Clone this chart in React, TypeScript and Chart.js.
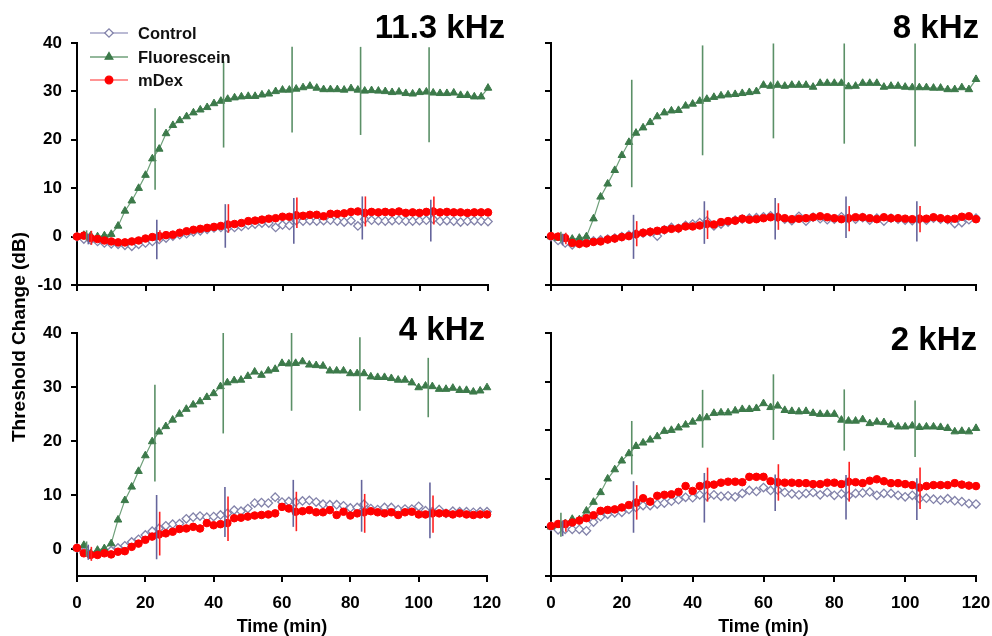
import React, { useEffect, useRef } from 'react';
import { Chart, registerables } from 'chart.js';

Chart.register(...registerables);

const FONT = '"Liberation Sans", Arial, Helvetica, sans-serif';

// ---------- data ----------
const time = [
  0, 2, 4, 6, 8, 10, 12, 14, 16, 18, 20, 22, 24, 26, 28, 30, 32, 34, 36, 38,
  40, 42, 44, 46, 48, 50, 52, 54, 56, 58, 60, 62, 64, 66, 68, 70, 72, 74, 76, 78,
  80, 82, 84, 86, 88, 90, 92, 94, 96, 98, 100, 102, 104, 106, 108, 110, 112, 114, 116, 118, 120,
];
const xTicks = [0, 20, 40, 60, 80, 100, 120];
const yTicksFull = [-10, 0, 10, 20, 30, 40];
const yTicksShort = [0, 10, 20, 30, 40];
const seriesNames = ['Control', 'Fluorescein', 'mDex'];
const panelTitles = ['11.3 kHz', '8 kHz', '4 kHz', '2 kHz'];
const xTitle = 'Time (min)';
const yTitle = 'Threshold Change (dB)';

// 11.3 kHz
const khz11Control = [0, -0.5, -0.7, -1.0, -1.3, -1.5, -1.6, -1.8, -2.0, -1.6, -1.3, -1.0, -0.6, -0.3, 0.1, 0.4, 0.6, 1.0, 1.2, 1.5, 1.8, 1.9, 1.8, 1.9, 2.1, 2.4, 2.6, 2.8, 2.8, 1.9, 2.4, 2.3, 3.3, 3.2, 3.3, 3.2, 3.3, 3.4, 3.2, 3.0, 3.3, 2.2, 3.6, 3.4, 3.3, 3.2, 3.3, 3.4, 3.2, 3.2, 3.3, 3.4, 3.6, 3.2, 3.3, 3.2, 3.0, 3.2, 3.3, 3.2, 3.1];
const khz11Fluor = [0, 0.3, 0.2, 0, 0.2, 0.5, 2.2, 5.3, 7.4, 10, 12.7, 16.1, 18.1, 21.3, 23, 24, 24.8, 25.6, 26.2, 26.7, 27.5, 28, 28.4, 28.7, 28.9, 29, 29, 29.3, 29.5, 30, 30.3, 30.3, 30.5, 30.8, 31.1, 30.7, 30.4, 30.4, 30.4, 30.3, 30.6, 30.3, 30.1, 30.2, 30.1, 30, 29.8, 29.9, 29.6, 29.5, 29.8, 29.9, 29.7, 29.6, 29.6, 29.7, 29.2, 29.2, 28.9, 28.9, 30.7];
const khz11Mdex = [0, 0.2, -0.3, -0.5, -0.8, -1.0, -1.2, -1.2, -1.0, -0.8, -0.4, -0.1, 0.1, 0.3, 0.4, 0.8, 1.1, 1.4, 1.6, 1.8, 2.0, 2.2, 2.5, 2.6, 2.8, 3.2, 3.3, 3.5, 3.7, 3.8, 4.1, 4.1, 4.4, 4.3, 4.5, 4.5, 4.2, 4.7, 4.7, 4.8, 5.1, 5.2, 4.9, 5.1, 5.0, 5.1, 5.0, 5.2, 4.9, 5.0, 4.9, 5.1, 5.2, 5.0, 5.1, 5.0, 5.0, 4.9, 5.0, 5.0, 5.0];

// 8 kHz
const khz8Control = [0, -0.8, -1.3, -1.7, -1.4, -1.1, -0.9, -0.7, -0.5, -0.3, 0, 0.3, 0.5, 0.7, 0.9, 0.1, 1.4, 1.9, 1.7, 2.3, 2.6, 2.9, 3.2, 2.2, 2.6, 3.0, 3.4, 3.6, 3.8, 3.9, 4.1, 4.3, 4.0, 3.6, 3.3, 4.2, 3.2, 4.0, 3.7, 3.5, 3.6, 4.1, 3.7, 3.6, 3.9, 3.4, 3.8, 3.2, 3.8, 3.6, 3.4, 3.3, 3.6, 3.4, 3.8, 3.6, 3.5, 2.7, 2.9, 3.5, 3.8];
const khz8Fluor = [0, -0.3, -0.3, -0.5, -0.3, 0, 3.7, 8.2, 10.9, 13.7, 16.8, 19.5, 21.4, 22.5, 23.6, 24.8, 25.6, 26, 26.1, 27, 27.4, 28, 28.4, 28.8, 29.1, 29.3, 29.4, 29.6, 29.8, 30, 31.3, 31.1, 31.3, 31.1, 31.3, 31.3, 31.3, 30.9, 31.7, 31.7, 31.7, 31.7, 31, 31.1, 31.7, 31.7, 31.7, 30.9, 31.1, 31.1, 30.9, 30.8, 30.8, 30.8, 30.7, 30.7, 30.4, 30.4, 30.8, 30.4, 32.5];
const khz8Mdex = [0.1, 0, -0.3, -1.3, -1.5, -1.4, -1.1, -1, -0.6, -0.4, -0.1, 0.1, 0.5, 0.8, 1.0, 1.2, 1.4, 1.6, 1.7, 2.1, 2.1, 2.3, 2.6, 2.5, 3.0, 3.2, 3.3, 3.7, 3.5, 3.6, 3.8, 4, 4, 3.8, 3.6, 3.7, 3.8, 4, 4.2, 4, 3.8, 3.6, 3.8, 4, 4, 3.8, 3.6, 4, 3.8, 3.8, 3.7, 3.6, 3.7, 3.7, 4, 3.8, 3.6, 3.7, 4.1, 4.2, 3.6];

// 4 kHz
const khz4Control = [0.2, -0.5, -0.9, -0.8, -0.5, -0.3, 0.2, 0.6, 1.3, 1.8, 2.6, 3.3, 3.8, 4.3, 4.6, 4.7, 5.6, 5.9, 6.1, 5.9, 6.0, 6.3, 6.6, 7.2, 7.0, 7.5, 8.5, 8.6, 8.5, 9.6, 8.7, 8.8, 8.7, 8.9, 9.0, 8.7, 8.3, 8.2, 8.2, 8.0, 7.6, 7.7, 8.3, 7.5, 7.3, 7.7, 7.7, 7.3, 7.4, 7.4, 7.9, 7.1, 6.9, 7.3, 6.6, 7.0, 6.9, 6.9, 6.8, 6.9, 6.9];
const khz4Fluor = [0.1, 0.7, -0.8, -0.2, 0.1, 1.0, 5.4, 9.0, 11.5, 14.4, 17.3, 19.9, 21.7, 22.7, 23.9, 25, 25.9, 26.7, 27.3, 28.1, 28.8, 30.1, 30.8, 31.2, 31.3, 32, 32.8, 32.2, 33, 33.3, 34.4, 34.3, 34.4, 34.7, 34.1, 34, 33.9, 33, 33, 33, 32.5, 32.5, 32.5, 31.9, 31.8, 31.8, 31.6, 31.3, 31.3, 30.8, 29.9, 30.2, 30.1, 29.6, 29.6, 29.8, 29.4, 29.4, 29.1, 29.3, 29.9];
const khz4Mdex = [0.2, -0.8, -1.1, -1.1, -0.8, -1.0, -0.5, -0.4, 0.4, 1.0, 1.7, 2.3, 2.7, 2.9, 3.2, 3.7, 3.8, 4.1, 3.8, 4.8, 4.4, 4.6, 4.8, 5.7, 5.8, 6.0, 6.2, 6.3, 6.4, 6.6, 7.8, 7.5, 6.9, 7.0, 7.2, 6.8, 6.8, 7.2, 6.3, 6.9, 6.2, 6.6, 6.8, 7.0, 6.8, 6.6, 6.8, 6.3, 6.8, 6.9, 6.4, 6.4, 6.6, 6.6, 6.6, 6.4, 6.6, 6.4, 6.3, 6.4, 6.4];

// 2 kHz
const khz2Control = [0.2, -0.5, -0.4, -0.4, -0.4, -0.7, 1.1, 2.2, 2.7, 3.0, 3.1, 3.7, 4.1, 4.5, 4.5, 4.8, 5.0, 5.4, 5.7, 6.2, 6.1, 6.7, 6.4, 6.7, 6.4, 6.5, 6.3, 7.0, 7.6, 7.4, 8.2, 7.6, 7.7, 7.2, 6.9, 6.7, 7.0, 7.2, 6.7, 7.2, 6.6, 6.9, 6.5, 7.0, 7.1, 7.3, 6.6, 7.0, 7.0, 6.6, 6.3, 6.6, 5.9, 6.0, 5.8, 5.6, 5.9, 5.5, 5.3, 4.9, 4.8];
const khz2Fluor = [0.1, 0.5, 0.8, 1.7, 1.6, 3.4, 5.2, 7.2, 10.0, 11.9, 13.7, 15.2, 16.7, 17.4, 18.0, 18.7, 19.8, 20.0, 20.5, 21.1, 21.7, 22.4, 22.6, 23.5, 23.6, 23.6, 24.0, 24.3, 24.3, 24.5, 25.5, 24.7, 25.0, 24.1, 23.9, 23.8, 23.9, 23.5, 23.3, 23.3, 23.3, 22.1, 21.9, 21.9, 22.2, 21.4, 21.7, 21.6, 21.1, 20.7, 20.7, 20.9, 20.6, 20.7, 20.7, 20.6, 20.4, 19.7, 19.8, 19.7, 20.4];
const khz2Mdex = [0.3, 0.7, 0.7, 1.0, 1.4, 1.9, 2.5, 3.4, 3.6, 3.7, 4.1, 4.6, 5.1, 6.0, 5.3, 6.5, 6.7, 6.8, 7.3, 8.5, 7.5, 8.5, 8.8, 8.8, 9.2, 9.4, 9.4, 9.3, 10.4, 10.4, 10.4, 9.5, 9.3, 9.2, 9.2, 9.1, 9.1, 8.9, 8.9, 9.2, 9.2, 8.9, 9.4, 9.3, 9.1, 9.6, 9.9, 9.5, 9.1, 9.1, 8.9, 8.7, 8.2, 8.5, 8.7, 8.7, 8.7, 9.1, 8.8, 8.6, 8.5];

// error bars (x positions and lower / upper ends)
const errXControl = [3.3, 23.3, 43.3, 63.3, 83.3, 103.3];
const errXFluor = [2.8, 22.8, 42.8, 62.8, 82.8, 102.8];
const errXMdex = [4.2, 24.2, 44.2, 64.2, 84.2, 104.2];

const khz11ControlLo = [-1.6, -4.7, -2.3, -1.5, -0.6, -1.0];
const khz11ControlHi = [0.6, 3.5, 6.7, 8.0, 8.3, 7.6];
const khz11FluorLo = [-0.8, 9.7, 18.4, 21.5, 21.0, 19.5];
const khz11FluorHi = [1.3, 26.5, 36.2, 39.2, 39.2, 39.1];
const khz11MdexLo = [-1.7, -1.0, 0.8, 1.8, 2.1, 2.5];
const khz11MdexHi = [1.2, 1.3, 6.7, 8.1, 8.3, 8.3];

const khz8ControlLo = [-1.8, -4.6, -1.5, -0.6, -0.3, -1.0];
const khz8ControlHi = [0.6, 4.5, 7.3, 8.0, 8.3, 7.3];
const khz8FluorLo = [-1.2, 10.2, 16.8, 20.3, 19.2, 18.6];
const khz8FluorHi = [1.0, 32.4, 39.5, 39.9, 39.9, 39.9];
const khz8MdexLo = [-1.6, -2.0, -0.5, 1.4, 1.1, 0.9];
const khz8MdexHi = [0.8, 3.2, 5.4, 6.9, 6.3, 6.3];

const khz4ControlLo = [-2.0, -1.9, 2.2, 4.1, 3.2, 2.0];
const khz4ControlHi = [0.8, 10.0, 11.5, 12.8, 12.8, 12.3];
const khz4FluorLo = [-1.4, 12.5, 21.4, 25.6, 25.6, 24.4];
const khz4FluorHi = [1.4, 30.4, 40, 40, 39.2, 35.4];
const khz4MdexLo = [-2.2, -1.2, 1.5, 3.3, 3.0, 3.0];
const khz4MdexHi = [0.4, 6.9, 9.7, 10.6, 10.2, 9.9];

const khz2ControlLo = [-1.8, -1.1, 1.0, 3.4, 1.6, 1.5];
const khz2ControlHi = [1.4, 9.5, 11.2, 10.9, 10.8, 10.1];
const khz2FluorLo = [-1.9, 10.9, 16.4, 18.0, 15.8, 14.5];
const khz2FluorHi = [3.0, 21.9, 28.3, 31.5, 28.4, 26.1];
const khz2MdexLo = [-0.9, 1.6, 5.3, 5.5, 5.3, 3.8];
const khz2MdexHi = [1.6, 8.7, 12.3, 13.0, 13.5, 12.3];

// ---------- styles ----------
const STYLE = {
  control: { line: '#a3a3c6', marker: '#8383aa', bar: '#65659c', fill: '#ffffff', shape: 'rectRot', r: 4.2 },
  fluor: { line: '#6fa07a', marker: '#3c7a4a', bar: '#5b9067', fill: '#3c7a4a', shape: 'triangle', r: 4.4 },
  mdex: { line: '#ff7070', marker: '#ff0000', bar: '#ff2020', fill: '#ff0000', shape: 'circle', r: 3.8 },
};

// ---------- plugins ----------
function drawMarker(ctx: CanvasRenderingContext2D, shape: string, x: number, y: number, r: number) {
  ctx.beginPath();
  if (shape === 'circle') {
    ctx.arc(x, y, r, 0, Math.PI * 2);
  } else if (shape === 'triangle') {
    let a = 0;
    ctx.moveTo(x + Math.sin(a) * r, y - Math.cos(a) * r);
    a += (2 * Math.PI) / 3;
    ctx.lineTo(x + Math.sin(a) * r, y - Math.cos(a) * r);
    a += (2 * Math.PI) / 3;
    ctx.lineTo(x + Math.sin(a) * r, y - Math.cos(a) * r);
  } else {
    ctx.moveTo(x - r, y);
    ctx.lineTo(x, y - r);
    ctx.lineTo(x + r, y);
    ctx.lineTo(x, y + r);
  }
  ctx.closePath();
}

const errorBarPlugin = {
  id: 'errorBars',
  afterDatasetsDraw(chart: any, _args: any, opts: any) {
    const { ctx, scales } = chart;
    const xs = scales.x;
    const ys = scales.y;
    ctx.save();
    (opts.bars || []).forEach((bar: any) => {
      ctx.strokeStyle = bar.color;
      ctx.lineWidth = bar.width;
      bar.x.forEach((xv: number, i: number) => {
        const px = xs.getPixelForValue(xv);
        ctx.beginPath();
        ctx.moveTo(px, ys.getPixelForValue(bar.lo[i]));
        ctx.lineTo(px, ys.getPixelForValue(bar.hi[i]));
        ctx.stroke();
      });
    });
    ctx.restore();
  },
};

const textPlugin = {
  id: 'panelText',
  afterDraw(chart: any, _args: any, opts: any) {
    const { ctx, chartArea } = chart;
    (opts.items || []).forEach((it: any) => {
      ctx.save();
      ctx.font = it.font;
      ctx.fillStyle = '#000';
      ctx.textAlign = it.align;
      ctx.textBaseline = it.baseline;
      const ax = it.anchorX === 'right' ? chartArea.right : chartArea.left;
      ctx.translate(ax + it.dx, chartArea.top + it.dy);
      if (it.rotate) ctx.rotate(it.rotate);
      ctx.fillText(it.text, 0, 0);
      ctx.restore();
    });
  },
};

const legendPlugin = {
  id: 'miniLegend',
  afterDraw(chart: any, _args: any, opts: any) {
    if (!opts.show) return;
    const { ctx, chartArea } = chart;
    const styles = [STYLE.control, STYLE.fluor, STYLE.mdex];
    ctx.save();
    seriesNames.forEach((name, i) => {
      const st = styles[i];
      const y = chartArea.top + opts.rows[i];
      const x1 = chartArea.left + opts.lineStart;
      const x2 = chartArea.left + opts.lineEnd;
      ctx.strokeStyle = st.line;
      ctx.lineWidth = 1.5;
      ctx.beginPath();
      ctx.moveTo(x1, y);
      ctx.lineTo(x2, y);
      ctx.stroke();
      drawMarker(ctx, st.shape, (x1 + x2) / 2, y, st.r);
      ctx.fillStyle = st.fill;
      ctx.fill();
      ctx.strokeStyle = st.marker;
      ctx.lineWidth = 1.3;
      ctx.stroke();
      ctx.fillStyle = '#111';
      ctx.font = `bold 16.5px ${FONT}`;
      ctx.textAlign = 'left';
      ctx.textBaseline = 'middle';
      ctx.fillText(name, chartArea.left + opts.textStart, y + 1);
    });
    ctx.restore();
  },
};

// ---------- panels ----------
type PanelCfg = {
  title: string;
  control: number[]; fluor: number[]; mdex: number[];
  cLo: number[]; cHi: number[]; fLo: number[]; fHi: number[]; mLo: number[]; mHi: number[];
  yMin: number; yMax: number; yTicks: number[];
  yLabels: boolean; xLabels: boolean;
  pad: { left: number; right: number; top: number; bottom: number };
  yWidth: number; xHeight: number;
  titleDx: number; titleDy: number;
  legend: boolean; yTitleOn: boolean;
};

const panels: PanelCfg[] = [
  {
    title: panelTitles[0], control: khz11Control, fluor: khz11Fluor, mdex: khz11Mdex,
    cLo: khz11ControlLo, cHi: khz11ControlHi, fLo: khz11FluorLo, fHi: khz11FluorHi, mLo: khz11MdexLo, mHi: khz11MdexHi,
    yMin: -10, yMax: 40, yTicks: yTicksFull, yLabels: true, xLabels: false,
    pad: { left: 0, right: 504, top: 43, bottom: 331 }, yWidth: 77, xHeight: 20,
    titleDx: 17, titleDy: -5, legend: true, yTitleOn: false,
  },
  {
    title: panelTitles[1], control: khz8Control, fluor: khz8Fluor, mdex: khz8Mdex,
    cLo: khz8ControlLo, cHi: khz8ControlHi, fLo: khz8FluorLo, fHi: khz8FluorHi, mLo: khz8MdexLo, mHi: khz8MdexHi,
    yMin: -10, yMax: 40, yTicks: yTicksFull, yLabels: false, xLabels: false,
    pad: { left: 531, right: 16, top: 43, bottom: 331 }, yWidth: 20, xHeight: 20,
    titleDx: 3, titleDy: -5, legend: false, yTitleOn: false,
  },
  {
    title: panelTitles[2], control: khz4Control, fluor: khz4Fluor, mdex: khz4Mdex,
    cLo: khz4ControlLo, cHi: khz4ControlHi, fLo: khz4FluorLo, fHi: khz4FluorHi, mLo: khz4MdexLo, mHi: khz4MdexHi,
    yMin: -5, yMax: 40, yTicks: yTicksShort, yLabels: true, xLabels: true,
    pad: { left: 0, right: 505, top: 333, bottom: 0 }, yWidth: 77, xHeight: 60,
    titleDx: -2, titleDy: 7, legend: false, yTitleOn: true,
  },
  {
    title: panelTitles[3], control: khz2Control, fluor: khz2Fluor, mdex: khz2Mdex,
    cLo: khz2ControlLo, cHi: khz2ControlHi, fLo: khz2FluorLo, fHi: khz2FluorHi, mLo: khz2MdexLo, mHi: khz2MdexHi,
    yMin: -10, yMax: 40, yTicks: yTicksFull, yLabels: false, xLabels: true,
    pad: { left: 531, right: 16, top: 333, bottom: 0 }, yWidth: 20, xHeight: 60,
    titleDx: 1, titleDy: 17, legend: false, yTitleOn: false,
  },
];

function toPoints(values: number[]) {
  return time.map((t, i) => ({ x: t, y: values[i] }));
}

function PanelChart({ cfg }: { cfg: PanelCfg }) {
  const ref = useRef<HTMLCanvasElement>(null);
  useEffect(() => {
    const yTickFont = { family: FONT, size: 17, weight: 'bold' as const };
    const xTickFont = { family: FONT, size: 17, weight: 'bold' as const, lineHeight: 2.5 };
    const grid = { display: true, drawOnChartArea: false, drawTicks: true, tickLength: 6, color: '#000', lineWidth: 2 };
    const border = { display: true, color: '#000', width: 2 };
    const textItems: any[] = [
      { text: cfg.title, font: `bold 33px ${FONT}`, align: 'right', baseline: 'alphabetic', anchorX: 'right', dx: cfg.titleDx, dy: cfg.titleDy },
    ];
    if (cfg.yTitleOn) {
      textItems.push({ text: yTitle, font: `bold 19px ${FONT}`, align: 'center', baseline: 'middle', anchorX: 'left', dx: -57, dy: 4, rotate: -Math.PI / 2 });
    }
    const chart = new Chart(ref.current as HTMLCanvasElement, {
      type: 'line',
      data: {
        datasets: [
          {
            label: seriesNames[0], data: toPoints(cfg.control), order: 3,
            borderColor: STYLE.control.line, borderWidth: 1, pointStyle: 'rectRot', pointRadius: STYLE.control.r,
            pointBackgroundColor: STYLE.control.fill, pointBorderColor: STYLE.control.marker, pointBorderWidth: 1.3, clip: false,
          },
          {
            label: seriesNames[1], data: toPoints(cfg.fluor), order: 2,
            borderColor: STYLE.fluor.line, borderWidth: 1.2, pointStyle: 'triangle', pointRadius: STYLE.fluor.r,
            pointBackgroundColor: STYLE.fluor.fill, pointBorderColor: STYLE.fluor.marker, pointBorderWidth: 1, clip: false,
          },
          {
            label: seriesNames[2], data: toPoints(cfg.mdex), order: 1,
            borderColor: STYLE.mdex.line, borderWidth: 1.2, pointStyle: 'circle', pointRadius: STYLE.mdex.r,
            pointBackgroundColor: STYLE.mdex.fill, pointBorderColor: STYLE.mdex.marker, pointBorderWidth: 1, clip: false,
          },
        ] as any,
      },
      options: {
        animation: false,
        responsive: false,
        devicePixelRatio: 1,
        layout: { padding: cfg.pad, autoPadding: false },
        scales: {
          x: {
            type: 'linear', min: 0, max: 120,
            afterBuildTicks: (s: any) => { s.ticks = xTicks.map((v) => ({ value: v })); },
            afterFit: (s: any) => { s.height = cfg.xHeight; },
            ticks: { display: cfg.xLabels, font: xTickFont, color: '#000', padding: 0, maxRotation: 0, autoSkip: false },
            grid, border,
            title: { display: cfg.xLabels, text: xTitle, color: '#000', font: { family: FONT, size: 18, weight: 'bold', lineHeight: 1 }, padding: 0 },
          },
          y: {
            type: 'linear', min: cfg.yMin, max: cfg.yMax,
            afterBuildTicks: (s: any) => { s.ticks = cfg.yTicks.map((v) => ({ value: v })); },
            afterFit: (s: any) => { s.width = cfg.yWidth; },
            ticks: { display: cfg.yLabels, font: yTickFont, color: '#000', padding: 9 },
            grid, border,
          },
        } as any,
        plugins: {
          legend: { display: false },
          tooltip: { enabled: false },
          errorBars: {
            bars: [
              { x: errXFluor, lo: cfg.fLo, hi: cfg.fHi, color: STYLE.fluor.bar, width: 1.6 },
              { x: errXControl, lo: cfg.cLo, hi: cfg.cHi, color: STYLE.control.bar, width: 1.6 },
              { x: errXMdex, lo: cfg.mLo, hi: cfg.mHi, color: STYLE.mdex.bar, width: 1.6 },
            ],
          },
          panelText: { items: textItems },
          miniLegend: { show: cfg.legend, rows: [-10, 14, 37], lineStart: 13, lineEnd: 51, textStart: 61 },
        } as any,
      },
      plugins: [errorBarPlugin, textPlugin, legendPlugin],
    });
    return () => chart.destroy();
  }, [cfg]);
  return (
    <canvas
      ref={ref}
      width={992}
      height={636}
      style={{ position: 'absolute', left: 0, top: 0, width: 992, height: 636 }}
    />
  );
}

export default function App() {
  return (
    <div style={{ position: 'fixed', left: 0, top: 0, width: 992, height: 636, background: '#fff', overflow: 'hidden' }}>
      {panels.map((p) => (
        <PanelChart key={p.title} cfg={p} />
      ))}
    </div>
  );
}
